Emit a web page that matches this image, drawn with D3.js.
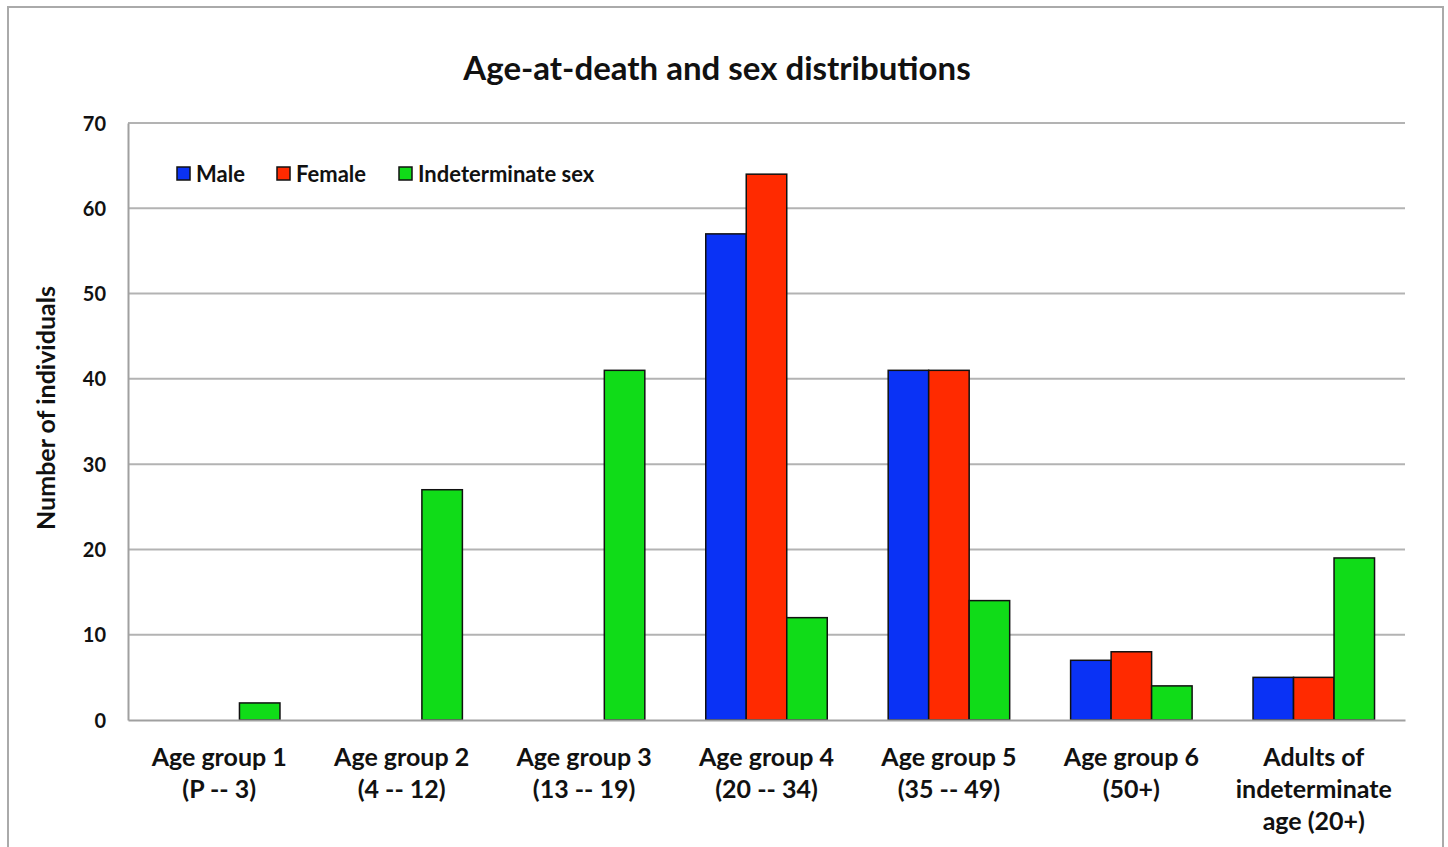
<!DOCTYPE html>
<html>
<head>
<meta charset="utf-8">
<script src="https://cdn.jsdelivr.net/npm/d3@7"></script>
<style>
  body { margin: 0; background: #fff; }
  text { font-family: Lato, "Open Sans", sans-serif; font-weight: bold; fill: #111; }
</style>
</head>
<body>
<div class="chart"></div>
<script>
var categories = [
  ["Age group 1", "(P -- 3)"],
  ["Age group 2", "(4 -- 12)"],
  ["Age group 3", "(13 -- 19)"],
  ["Age group 4", "(20 -- 34)"],
  ["Age group 5", "(35 -- 49)"],
  ["Age group 6", "(50+)"],
  ["Adults of", "indeterminate", "age (20+)"]
];
var seriesNames = ["Male", "Female", "Indeterminate sex"];
var male = [0, 0, 0, 57, 41, 7, 5];
var female = [0, 0, 0, 64, 41, 8, 5];
var indeterminate = [2, 27, 41, 12, 14, 4, 19];
var yTicks = [0, 10, 20, 30, 40, 50, 60, 70];
var colors = ["#0a32f5", "#ff2a00", "#10dc18"];

var svgWidth = 1448;
var svgHeight = 847;
var margin = {top: 123, right: 43, bottom: 127, left: 128};
var width = svgWidth - margin.left - margin.right;
var height = svgHeight - margin.top - margin.bottom;

var svg = d3.select(".chart")
  .append("svg")
  .attr("width", svgWidth)
  .attr("height", svgHeight);

// outer frame
svg.append("rect")
  .attr("x", 8).attr("y", 7)
  .attr("width", 1435).attr("height", 860)
  .attr("fill", "none")
  .attr("stroke", "#aaa")
  .attr("stroke-width", 2);

svg.append("text")
  .attr("x", 717).attr("y", 80)
  .attr("text-anchor", "middle")
  .style("font-size", "33px")
  .text("Age-at-death and sex distributions");

var chartGroup = svg.append("g")
  .attr("transform", `translate(${margin.left}, ${margin.top})`);

var data = categories.map(function(c, i) {
  return {cat: i, values: [male[i], female[i], indeterminate[i]]};
});

var x0 = d3.scaleBand()
  .domain(d3.range(categories.length))
  .range([0, width])
  .paddingInner(0.334)
  .paddingOuter(0.167);

var x1 = d3.scaleBand()
  .domain(d3.range(seriesNames.length))
  .range([0, x0.bandwidth()]);

var y = d3.scaleLinear()
  .domain([0, 70])
  .range([height, 0]);

// gridlines
chartGroup.selectAll(".grid")
  .data(yTicks.filter(d => d > 0))
  .enter()
  .append("line")
  .attr("x1", 0).attr("x2", width)
  .attr("y1", d => y(d)).attr("y2", d => y(d))
  .attr("stroke", "#b3b3b3")
  .attr("stroke-width", 2);

// left axis
var leftAxis = d3.axisLeft(y).tickValues(yTicks).tickSize(0).tickPadding(22);
var gy = chartGroup.append("g").call(leftAxis);
gy.select(".domain").attr("stroke", "#a0a0a0").attr("stroke-width", 2);
gy.selectAll("text").style("font-size", "20px").attr("dy", "0.35em");

// bars
var groups = chartGroup.selectAll(".cat")
  .data(data)
  .enter()
  .append("g")
  .attr("transform", d => `translate(${x0(d.cat)}, 0)`);

groups.selectAll("rect")
  .data(d => d.values.map((v, j) => ({s: j, v: v})).filter(e => e.v > 0))
  .enter()
  .append("rect")
  .attr("x", d => x1(d.s))
  .attr("width", x1.bandwidth())
  .attr("y", d => y(d.v))
  .attr("height", d => height - y(d.v))
  .attr("fill", d => colors[d.s])
  .attr("stroke", "#111")
  .attr("stroke-width", 1.5);

// bottom axis
var bottomAxis = d3.axisBottom(x0).tickSize(0).tickFormat("");
var gx = chartGroup.append("g")
  .attr("transform", `translate(0, ${height})`)
  .call(bottomAxis);
gx.select(".domain").attr("stroke", "#a0a0a0").attr("stroke-width", 2);

gx.selectAll(".tick").each(function(d) {
  var t = d3.select(this).append("text")
    .attr("text-anchor", "middle")
    .attr("y", 46)
    .style("font-size", "25px");
  categories[d].forEach(function(line, k) {
    t.append("tspan").attr("x", 0).attr("dy", k === 0 ? 0 : 32).text(line);
  });
});

// y axis label
chartGroup.append("text")
  .attr("transform", "rotate(-90)")
  .attr("x", 0 - (408 - margin.top))
  .attr("y", 0 - margin.left + 55)
  .attr("text-anchor", "middle")
  .style("font-size", "25px")
  .text("Number of individuals");

// legend
var legend = chartGroup.append("g").attr("transform", "translate(49, 51)");
var legendX = [0, 100, 222];
seriesNames.forEach(function(name, i) {
  var g = legend.append("g").attr("transform", `translate(${legendX[i]}, 0)`);
  g.append("rect")
    .attr("x", 0).attr("y", -7)
    .attr("width", 13).attr("height", 13)
    .attr("fill", colors[i])
    .attr("stroke", "#111")
    .attr("stroke-width", 1.5);
  g.append("text")
    .attr("x", 19).attr("y", 0)
    .attr("dy", "0.35em")
    .style("font-size", "22px")
    .text(name);
});
</script>
</body>
</html>
